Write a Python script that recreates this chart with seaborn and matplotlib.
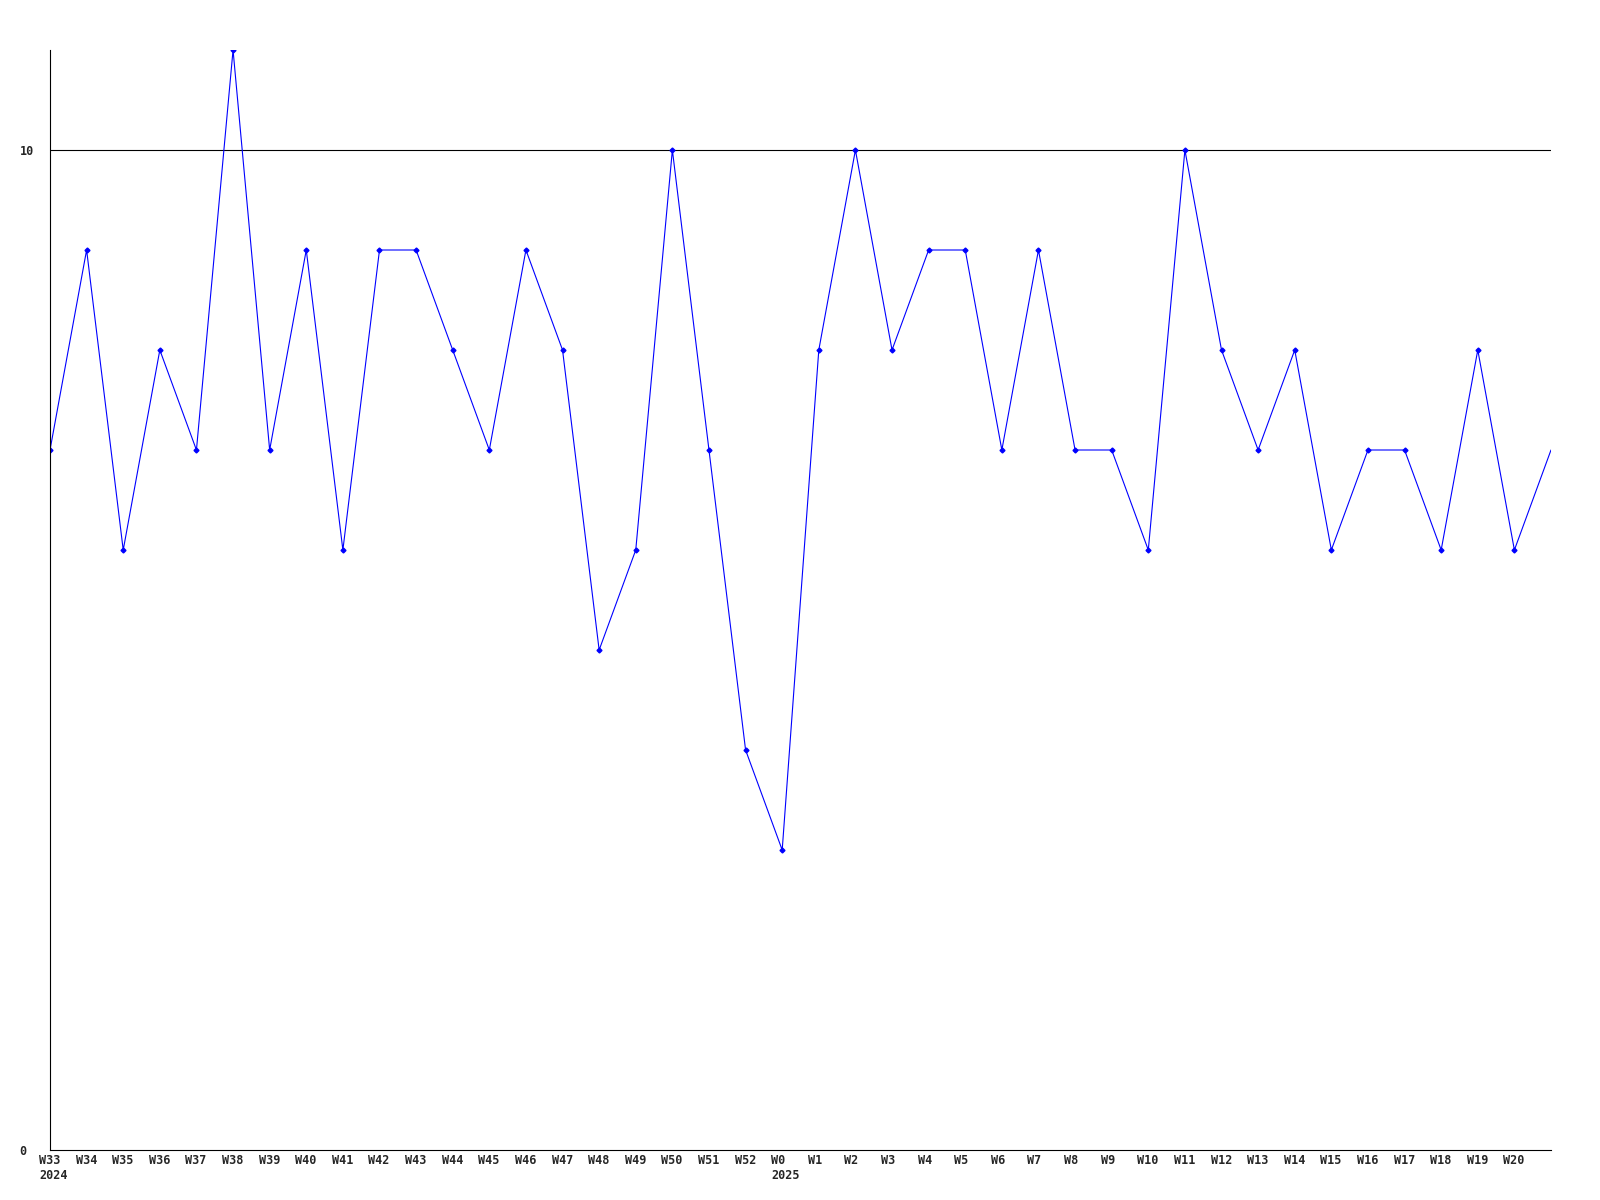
import matplotlib
matplotlib.use("Agg")
import matplotlib.pyplot as plt
import matplotlib.transforms as mtransforms
import numpy as np
import pandas as pd
import seaborn as sns

sns.set_style("white")
plt.rcParams['font.family'] = ['DejaVu Sans Mono', 'DejaVu Sans']

# weekly counts, the last point (W21) has no label on the axis
week_labels = ["W33\n2024", "W34", "W35", "W36", "W37", "W38", "W39", "W40", "W41",
               "W42", "W43", "W44", "W45", "W46", "W47", "W48", "W49", "W50", "W51",
               "W52", "W0\n2025", "W1", "W2", "W3", "W4", "W5", "W6", "W7", "W8", "W9",
               "W10", "W11", "W12", "W13", "W14", "W15", "W16", "W17", "W18", "W19", "W20"]
counts = [7, 9, 6, 8, 7, 11, 7, 9, 6, 9, 9, 8, 7, 9, 8, 5, 6, 10, 7, 4, 3,
          8, 10, 8, 9, 9, 7, 9, 7, 7, 6, 10, 8, 7, 8, 6, 7, 7, 6, 8, 6, 7]
y_ticks = [0, 10]

df = pd.DataFrame({"pos": np.arange(len(counts)), "count": counts})

fig = plt.figure(figsize=(16, 12), dpi=100)
ax = fig.add_axes([50 / 1600, 50 / 1200, 1501 / 1600, 1100 / 1200])

sns.lineplot(data=df, x="pos", y="count", color="#0000ff", linewidth=0.8, ax=ax)
# markers on labelled weeks only
ax.plot(df.pos[:len(week_labels)], df["count"][:len(week_labels)], linestyle="none",
        marker="D", markersize=2.5, color="#0000ff")

ax.set_xlim(0, len(counts) - 1)
ax.set_ylim(0, 11)
ax.axhline(10, color="black", linewidth=0.8, zorder=0)

ax.set_yticks(y_ticks)
ax.set_yticklabels([str(v) for v in y_ticks], fontsize=8.5, fontweight="bold", ha="left")
ax.tick_params(axis="y", length=0, pad=22)
ax.tick_params(axis="x", length=0, pad=3)

ax.set_xticks(np.arange(len(week_labels)))
ax.set_xticklabels(week_labels, fontsize=8.5, fontweight="bold", ha="left",
                   multialignment="left", va="top")
# labels start a little left of their week, as in the original
shift = mtransforms.ScaledTranslation(-11 / 100, 0, fig.dpi_scale_trans)
for lbl in ax.get_xticklabels():
    lbl.set_transform(lbl.get_transform() + shift)

ax.set_xlabel("")
ax.set_ylabel("")
for side in ["top", "right"]:
    ax.spines[side].set_visible(False)
for side in ["left", "bottom"]:
    ax.spines[side].set_color("black")
    ax.spines[side].set_linewidth(0.8)

fig.savefig("out.png", dpi=100)
